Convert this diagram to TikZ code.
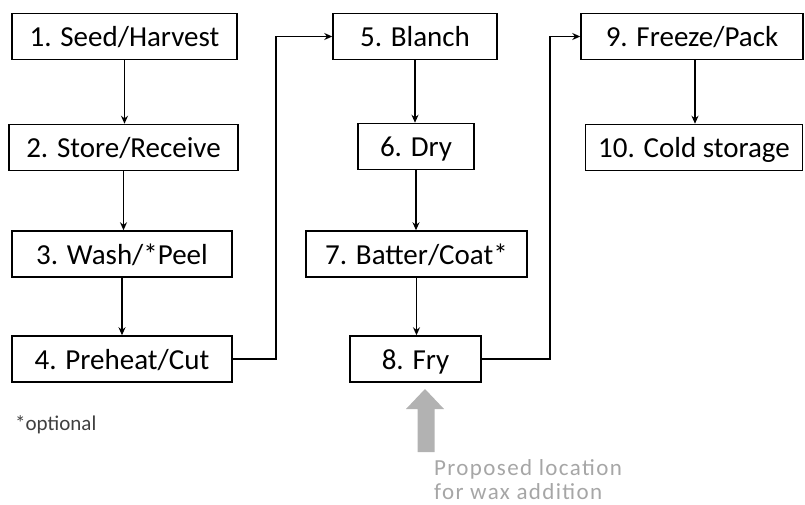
\documentclass[tikz,border=0pt]{standalone}
\usepackage{fontspec}
\setmainfont{Carlito}
\usetikzlibrary{arrows.meta}

\begin{document}
\begin{tikzpicture}[x=1pt,y=-1pt,>={Stealth[length=8pt,width=7pt]},
  stepbox/.style={draw,line width=1.5pt,inner sep=0pt,minimum height=46,text height=21pt,text depth=0pt,font=\fontsize{29}{32}\selectfont},
  flow/.style={->,line width=1.4pt}]
\useasboundingbox (0,0) rectangle (805,505);
\node[stepbox,minimum width=225] (s1) at (124.5,36.5) {1. Seed/Harvest};
\node[stepbox,minimum width=229] (s2) at (123.5,147.5) {2. Store/Receive};
\node[stepbox,minimum width=220] (s3) at (122,254) {3. Wash/*Peel};
\node[stepbox,minimum width=220] (s4) at (122,359) {4. Preheat/Cut};
\node[stepbox,minimum width=164] (s5) at (415,36.5) {5. Blanch};
\node[stepbox,minimum width=116] (s6) at (416,146.5) {6. Dry};
\node[stepbox,minimum width=221] (s7) at (416.5,254) {7. Batter/Coat*};
\node[stepbox,minimum width=131] (s8) at (415.5,359) {8. Fry};
\node[stepbox,minimum width=222] (s9) at (692,36.5) {9. Freeze/Pack};
\node[stepbox,minimum width=217] (s10) at (694,147.5) {10. Cold storage};
\coordinate (j1) at (276,36.5);
\coordinate (j2) at (550,36.5);
\draw[flow] (s1.south) -- (s1.south |- s2.north);
\draw[flow] (s2.south) -- (s2.south |- s3.north);
\draw[flow] (s3.south) -- (s3.south |- s4.north);
\draw[flow] (s4.east) -| (j1) -- (s5.west);
\draw[flow] (s5.south) -- (s5.south |- s6.north);
\draw[flow] (s6.south) -- (s6.south |- s7.north);
\draw[flow] (s7.south) -- (s7.south |- s8.north);
\draw[flow] (s8.east) -| (j2) -- (s9.west);
\draw[flow] (s9.south -| 695,0) -- (s10.north -| 695,0);
% proposed wax addition
\fill[gray!60] (425,389) -- (444,409) -- (434.5,409) -- (434.5,452) -- (417.5,452) -- (417.5,409) -- (406,409) -- cycle;
\node[anchor=north west,align=left,text=gray!70,inner sep=0pt,font=\fontsize{23}{24}\selectfont\addfontfeature{LetterSpace=6}] (wax) at (434,459) {Proposed location\\for wax addition};
\node[anchor=west,inner sep=0pt,text=black!75,font=\fontsize{21}{24}\selectfont] (opt) at (15,425) {*optional};
\end{tikzpicture}
\end{document}
